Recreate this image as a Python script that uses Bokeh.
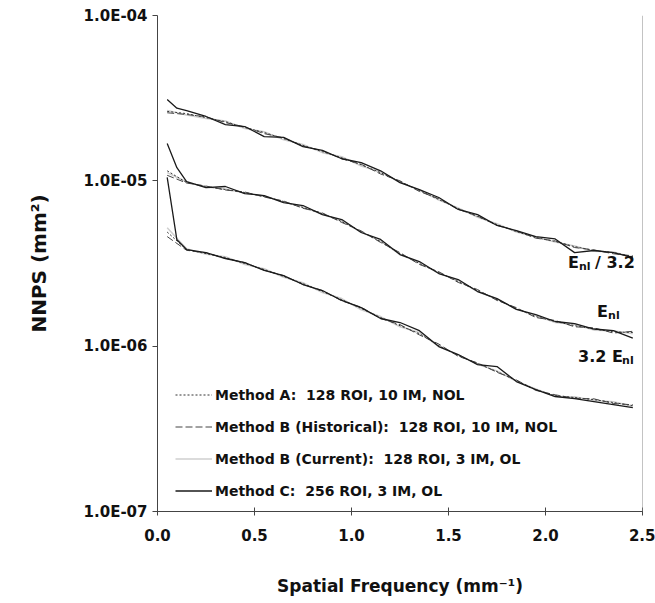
from bokeh.plotting import figure
from bokeh.models import Legend, LegendItem, Label, Span, FixedTicker, CustomJSTickFormatter, Range1d
from bokeh.embed import file_html
from bokeh.resources import INLINE

# Spatial frequency (mm^-1)
freq = [0.05, 0.15, 0.25, 0.35, 0.45, 0.55, 0.65, 0.75, 0.85, 0.95, 1.05, 1.15, 1.25,
        1.35, 1.45, 1.55, 1.65, 1.75, 1.85, 1.95, 2.05, 2.15, 2.25, 2.35, 2.45]
freq_c = [0.05, 0.10, 0.15, 0.25, 0.35, 0.45, 0.55, 0.65, 0.75, 0.85, 0.95, 1.05, 1.15,
          1.25, 1.35, 1.45, 1.55, 1.65, 1.75, 1.85, 1.95, 2.05, 2.15, 2.25, 2.35, 2.45]

# E_nl / 3.2
top_a = [2.63e-5, 2.55e-5, 2.41e-5, 2.28e-5, 2.10e-5, 1.96e-5, 1.80e-5, 1.64e-5, 1.50e-5, 1.38e-5,
         1.25e-5, 1.12e-5, 9.90e-6, 8.74e-6, 7.71e-6, 6.80e-6, 6.08e-6, 5.44e-6, 4.93e-6, 4.54e-6,
         4.30e-6, 4.00e-6, 3.79e-6, 3.68e-6, 3.48e-6]
top_bh = [2.58e-5, 2.52e-5, 2.44e-5, 2.25e-5, 2.12e-5, 1.93e-5, 1.82e-5, 1.62e-5, 1.52e-5, 1.36e-5,
          1.26e-5, 1.10e-5, 1.00e-5, 8.62e-6, 7.80e-6, 6.72e-6, 6.12e-6, 5.38e-6, 4.98e-6, 4.50e-6,
          4.33e-6, 3.95e-6, 3.82e-6, 3.62e-6, 3.52e-6]
top_bc = [2.66e-5, 2.50e-5, 2.38e-5, 2.30e-5, 2.07e-5, 1.98e-5, 1.77e-5, 1.66e-5, 1.48e-5, 1.40e-5,
          1.23e-5, 1.13e-5, 9.80e-6, 8.80e-6, 7.65e-6, 6.86e-6, 6.02e-6, 5.50e-6, 4.90e-6, 4.58e-6,
          4.26e-6, 4.04e-6, 3.75e-6, 3.71e-6, 3.45e-6]
top_c = [3.10e-5, 2.75e-5, 2.66e-5, 2.45e-5, 2.19e-5, 2.13e-5, 1.85e-5, 1.83e-5, 1.61e-5, 1.53e-5,
         1.36e-5, 1.29e-5, 1.15e-5, 9.76e-6, 8.86e-6, 7.93e-6, 6.71e-6, 6.25e-6, 5.37e-6, 5.00e-6,
         4.60e-6, 4.45e-6, 3.68e-6, 3.79e-6, 3.68e-6, 3.44e-6]

# E_nl
mid_a = [1.15e-5, 9.77e-6, 9.24e-6, 8.86e-6, 8.50e-6, 8.04e-6, 7.50e-6, 6.89e-6, 6.34e-6, 5.67e-6,
         4.93e-6, 4.29e-6, 3.63e-6, 3.16e-6, 2.79e-6, 2.46e-6, 2.17e-6, 1.91e-6, 1.69e-6, 1.51e-6,
         1.41e-6, 1.33e-6, 1.27e-6, 1.22e-6, 1.21e-6]
mid_bh = [1.08e-5, 9.70e-6, 9.30e-6, 8.80e-6, 8.56e-6, 7.98e-6, 7.55e-6, 6.82e-6, 6.40e-6, 5.60e-6,
          4.98e-6, 4.24e-6, 3.68e-6, 3.12e-6, 2.82e-6, 2.43e-6, 2.20e-6, 1.89e-6, 1.71e-6, 1.49e-6,
          1.43e-6, 1.31e-6, 1.29e-6, 1.20e-6, 1.23e-6]
mid_bc = [1.12e-5, 9.84e-6, 9.18e-6, 8.92e-6, 8.44e-6, 8.10e-6, 7.44e-6, 6.95e-6, 6.28e-6, 5.72e-6,
          4.88e-6, 4.33e-6, 3.58e-6, 3.20e-6, 2.76e-6, 2.49e-6, 2.14e-6, 1.93e-6, 1.67e-6, 1.53e-6,
          1.39e-6, 1.35e-6, 1.25e-6, 1.24e-6, 1.19e-6]
mid_c = [1.68e-5, 1.20e-5, 9.90e-6, 9.11e-6, 9.24e-6, 8.38e-6, 8.15e-6, 7.39e-6, 7.09e-6, 6.25e-6,
         5.83e-6, 4.87e-6, 4.42e-6, 3.58e-6, 3.25e-6, 2.75e-6, 2.53e-6, 2.14e-6, 1.94e-6, 1.67e-6,
         1.55e-6, 1.41e-6, 1.37e-6, 1.27e-6, 1.24e-6, 1.12e-6]

# 3.2 E_nl
bot_a = [4.90e-6, 3.84e-6, 3.63e-6, 3.44e-6, 3.16e-6, 2.91e-6, 2.64e-6, 2.39e-6, 2.14e-6, 1.91e-6,
         1.69e-6, 1.49e-6, 1.33e-6, 1.19e-6, 1.01e-6, 8.77e-7, 7.85e-7, 7.02e-7, 6.19e-7, 5.46e-7,
         5.02e-7, 4.89e-7, 4.75e-7, 4.56e-7, 4.37e-7]
bot_bh = [4.60e-6, 3.80e-6, 3.67e-6, 3.40e-6, 3.20e-6, 2.88e-6, 2.67e-6, 2.36e-6, 2.17e-6, 1.88e-6,
          1.72e-6, 1.47e-6, 1.35e-6, 1.17e-6, 1.03e-6, 8.68e-7, 7.92e-7, 6.95e-7, 6.25e-7, 5.40e-7,
          5.08e-7, 4.84e-7, 4.80e-7, 4.50e-7, 4.42e-7]
bot_bc = [5.20e-6, 3.88e-6, 3.60e-6, 3.48e-6, 3.12e-6, 2.94e-6, 2.61e-6, 2.42e-6, 2.11e-6, 1.94e-6,
          1.66e-6, 1.51e-6, 1.31e-6, 1.21e-6, 9.95e-7, 8.86e-7, 7.78e-7, 7.09e-7, 6.13e-7, 5.52e-7,
          4.96e-7, 4.94e-7, 4.70e-7, 4.61e-7, 4.33e-7]
bot_c = [1.05e-5, 4.40e-6, 3.84e-6, 3.68e-6, 3.39e-6, 3.20e-6, 2.87e-6, 2.67e-6, 2.36e-6, 2.17e-6,
         1.89e-6, 1.71e-6, 1.47e-6, 1.39e-6, 1.24e-6, 9.94e-7, 8.90e-7, 7.74e-7, 7.53e-7, 6.11e-7,
         5.46e-7, 4.96e-7, 4.82e-7, 4.62e-7, 4.43e-7, 4.25e-7]

legend_labels = [
    "Method A:  128 ROI, 10 IM, NOL",
    "Method B (Historical):  128 ROI, 10 IM, NOL",
    "Method B (Current):  128 ROI, 3 IM, OL",
    "Method C:  256 ROI, 3 IM, OL",
]
y_ticks = [1e-7, 1e-6, 1e-5, 1e-4]
x_ticks = [0.0, 0.5, 1.0, 1.5, 2.0, 2.5]

FONT = "DejaVu Sans"

p = figure(width=655, height=603, y_axis_type="log", output_backend="svg", toolbar_location=None,
           x_range=Range1d(0, 2.5), y_range=Range1d(1e-7, 1e-4),
           min_border_left=157, min_border_right=13, min_border_top=15, min_border_bottom=92)
p.outline_line_color = None
p.xgrid.visible = False
p.ygrid.visible = False

styles = {
    "bc": dict(line_color="#cfcfcf", line_width=1.5),
    "a": dict(line_color="#333333", line_width=1, line_dash="2 2"),
    "bh": dict(line_color="#444444", line_width=1, line_dash="7 3"),
    "c": dict(line_color="#1a1a1a", line_width=1.3),
}

rends = {"a": [], "bh": [], "bc": [], "c": []}
for ya, ybh, ybc, yc in [(top_a, top_bh, top_bc, top_c), (mid_a, mid_bh, mid_bc, mid_c), (bot_a, bot_bh, bot_bc, bot_c)]:
    rends["bc"].append(p.line(freq, ybc, **styles["bc"]))
    rends["a"].append(p.line(freq, ya, **styles["a"]))
    rends["bh"].append(p.line(freq, ybh, **styles["bh"]))
    rends["c"].append(p.line(freq_c, yc, **styles["c"]))

# invisible-ish legend proxy for the light "current" method (very faint in the original legend)
legend = Legend(items=[
    LegendItem(label=legend_labels[0], renderers=[rends["a"][0]]),
    LegendItem(label=legend_labels[1], renderers=[rends["bh"][0]]),
    LegendItem(label=legend_labels[2], renderers=[rends["bc"][0]]),
    LegendItem(label=legend_labels[3], renderers=[rends["c"][0]]),
], location=(18, 10), background_fill_alpha=0, border_line_color=None, padding=0, margin=0,
    spacing=11, label_height=21, glyph_height=21, glyph_width=37, label_standoff=3,
    label_text_font=FONT, label_text_font_style="bold", label_text_font_size="14px", label_text_color="#111111")
p.add_layout(legend)

# axes
p.yaxis.ticker = FixedTicker(ticks=y_ticks, minor_ticks=[])
p.yaxis.formatter = CustomJSTickFormatter(code="""
var s = tick.toExponential(1).toUpperCase();
return s.replace(/E([+-])(\\d)$/, 'E$10$2');
""")
p.xaxis.ticker = FixedTicker(ticks=x_ticks, minor_ticks=[])
p.xaxis.formatter = CustomJSTickFormatter(code="return tick.toFixed(1);")

for ax in (p.xaxis[0], p.yaxis[0]):
    ax.axis_line_color = "#444444"
    ax.major_tick_line_color = "#444444"
    ax.major_label_text_font = FONT
    ax.major_label_text_font_style = "bold"
    ax.major_label_text_font_size = "15px"
    ax.major_label_text_color = "#111111"
    ax.axis_label_text_font = FONT
    ax.axis_label_text_font_style = "bold"
    ax.axis_label_text_color = "#111111"
    ax.minor_tick_line_color = None

p.yaxis.major_tick_in = 0
p.yaxis.major_tick_out = 5
p.yaxis.major_label_standoff = 5
p.yaxis.axis_label = "NNPS (mm²)"
p.yaxis.axis_label_text_font_size = "20px"
p.yaxis.axis_label_standoff = 30

p.xaxis.major_tick_in = 4
p.xaxis.major_tick_out = 4
p.xaxis.major_label_standoff = 13
p.xaxis.axis_label = "Spatial Frequency (mm⁻¹)"
p.xaxis.axis_label_text_font_size = "17px"
p.xaxis.axis_label_standoff = 32

p.add_layout(Span(location=2.5, dimension="height", line_color="#888888", line_width=1))

# curve annotations
def lab(x, y, text, size, xoff=0, yoff=0):
    p.add_layout(Label(x=x, y=y, text=text, x_offset=xoff, y_offset=yoff, text_font=FONT,
                       text_font_style="bold", text_font_size=size, text_color="#111111",
                       text_baseline="middle", text_align="left"))

lab(2.116, 3.2e-6, "E", "16px")
lab(2.116, 3.2e-6, "nl", "11px", xoff=11, yoff=-4)
lab(2.116, 3.2e-6, "/ 3.2", "16px", xoff=27)
lab(2.266, 1.62e-6, "E", "16px")
lab(2.266, 1.62e-6, "nl", "11px", xoff=11, yoff=-4)
lab(2.168, 8.65e-7, "3.2 E", "16px")
lab(2.168, 8.65e-7, "nl", "11px", xoff=44, yoff=-4)

open("out.html", "w").write(file_html(p, INLINE))
